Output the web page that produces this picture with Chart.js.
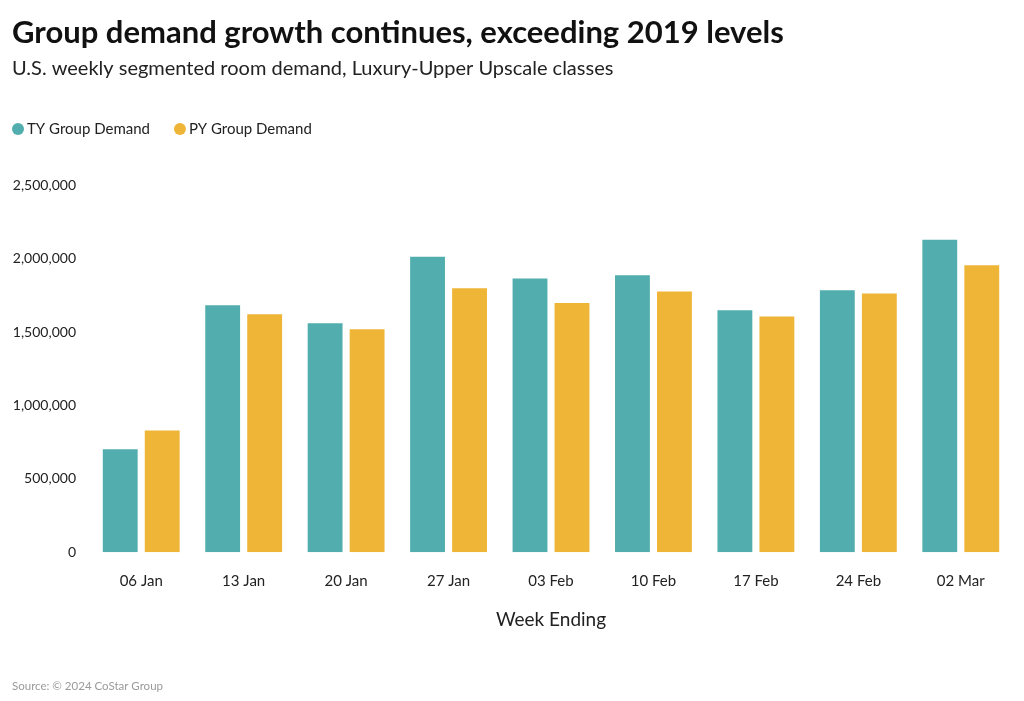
<!DOCTYPE html>
<html>
<head>
<meta charset="utf-8">
<script src="https://cdn.jsdelivr.net/npm/chart.js@4"></script>
<style>
html,body{margin:0;padding:0;background:#fff;}
#wrap{position:relative;width:1024px;height:701px;}
</style>
</head>
<body>
<div id="wrap"><canvas id="c" width="1024" height="701"></canvas></div>
<script>
const categories = ['06 Jan','13 Jan','20 Jan','27 Jan','03 Feb','10 Feb','17 Feb','24 Feb','02 Mar'];
const tyGroupDemand = [701000, 1683000, 1560000, 2012000, 1864000, 1887000, 1649000, 1785000, 2128000];
const pyGroupDemand = [829000, 1621000, 1519000, 1798000, 1698000, 1776000, 1606000, 1763000, 1955000];
const seriesNames = ['TY Group Demand', 'PY Group Demand'];
const yTicks = [0, 500000, 1000000, 1500000, 2000000, 2500000];

const FONT = 'Lato, "Noto Sans", sans-serif';
const TEAL = '#52AEAE';
const GOLD = '#EEB537';

const legendPlugin = {
  id: 'dotLegend',
  afterDraw(chart) {
    const ctx = chart.ctx;
    ctx.save();
    ctx.font = '15px ' + FONT;
    ctx.textBaseline = 'middle';
    ctx.textAlign = 'left';
    let cx = 18;
    const cy = 129;
    chart.data.datasets.forEach(ds => {
      ctx.fillStyle = ds.backgroundColor;
      ctx.beginPath();
      ctx.arc(cx, cy, 6, 0, Math.PI * 2);
      ctx.fill();
      ctx.fillStyle = '#222';
      const tx = cx + 9;
      ctx.fillText(ds.label, tx, cy);
      cx = tx + ctx.measureText(ds.label).width + 30;
    });
    ctx.restore();
  }
};

const sourcePlugin = {
  id: 'sourceNote',
  afterDraw(chart) {
    const ctx = chart.ctx;
    ctx.save();
    ctx.font = '11.5px ' + FONT;
    ctx.fillStyle = '#9a9a9a';
    ctx.textAlign = 'left';
    ctx.textBaseline = 'middle';
    ctx.fillText('Source: \u00A9 2024 CoStar Group', 12, 686);
    ctx.restore();
  }
};

function build() {
  new Chart(document.getElementById('c'), {
    type: 'bar',
    data: {
      labels: categories,
      datasets: [
        { label: seriesNames[0], data: tyGroupDemand, backgroundColor: TEAL, borderWidth: 0 },
        { label: seriesNames[1], data: pyGroupDemand, backgroundColor: GOLD, borderWidth: 0 }
      ]
    },
    options: {
      responsive: false,
      animation: false,
      devicePixelRatio: 1,
      categoryPercentage: 0.82,
      barPercentage: 0.83,
      layout: { padding: { left: 12, right: 12, top: 0, bottom: 70 } },
      plugins: {
        tooltip: { enabled: false },
        legend: { display: false },
        title: {
          display: true,
          text: 'Group demand growth continues, exceeding 2019 levels',
          align: 'start',
          color: '#111',
          font: { family: FONT, size: 31, weight: 'bold' },
          padding: { top: 14, bottom: 4 }
        },
        subtitle: {
          display: true,
          text: 'U.S. weekly segmented room demand, Luxury-Upper Upscale classes',
          align: 'start',
          color: '#222',
          font: { family: FONT, size: 20 },
          padding: { top: 1, bottom: 105 }
        }
      },
      scales: {
        x: {
          grid: { display: false, drawTicks: false },
          border: { display: false },
          ticks: { color: '#222', font: { family: FONT, size: 15 }, padding: 20 },
          title: {
            display: true,
            text: 'Week Ending',
            color: '#222',
            font: { family: FONT, size: 19 },
            padding: { top: -2, bottom: 0 }
          }
        },
        y: {
          min: 0,
          max: 2500000,
          grid: { display: false, drawTicks: false },
          border: { display: false },
          afterBuildTicks(axis) { axis.ticks = yTicks.map(v => ({ value: v })); },
          afterFit(axis) { axis.width = 78; },
          ticks: {
            color: '#222',
            font: { family: FONT, size: 14 },
            padding: 14,
            callback: v => v.toLocaleString('en-US')
          }
        }
      }
    },
    plugins: [legendPlugin, sourcePlugin]
  });
}

const fontLoads = ['15px Lato', 'bold 31px Lato', '20px Lato', '19px Lato', '14px Lato', '11.5px Lato']
  .map(f => document.fonts.load(f).catch(() => null));
Promise.all(fontLoads).then(build, build);
</script>
</body>
</html>
